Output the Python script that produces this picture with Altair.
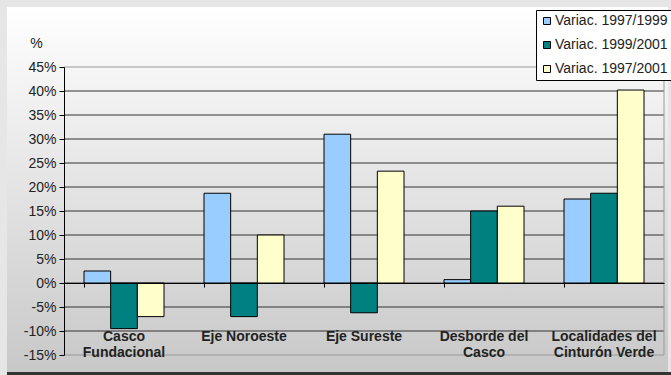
import altair as alt
import pandas as pd

categories = ["Casco|Fundacional", "Eje Noroeste", "Eje Sureste", "Desborde del|Casco", "Localidades del|Cinturón Verde"]
series = ["Variac. 1997/1999", "Variac. 1999/2001", "Variac. 1997/2001"]
v_97_99 = [2.5, 18.7, 31.0, 0.7, 17.5]
v_99_01 = [-9.5, -7.0, -6.2, 15.0, 18.7]
v_97_01 = [-7.0, 10.0, 23.3, 16.0, 40.2]
colors = ["#99CCFF", "#008080", "#FFFFCC"]
y_ticks = [-15, -10, -5, 0, 5, 10, 15, 20, 25, 30, 35, 40, 45]

rows = []
for s, vals in zip(series, [v_97_99, v_99_01, v_97_01]):
    for c, v in zip(categories, vals):
        rows.append({"cat": c, "serie": s, "val": v})
df = pd.DataFrame(rows)
grid_df = pd.DataFrame({"v": y_ticks})

FONT = "Liberation Sans"
W, H = 600, 288

yscale = alt.Scale(domain=[-15, 45], nice=False, zero=False)
yaxis = alt.Axis(values=y_ticks, labelExpr="datum.value + '%'",
                 title="%", titleAngle=0, titleX=-28, titleY=-20,
                 titleAlign="center", titleBaseline="alphabetic",
                 titleFont=FONT, titleFontSize=14, titleFontWeight="normal",
                 titleColor="#222222",
                 labelFont=FONT, labelFontSize=14, labelColor="#222222",
                 labelPadding=3, tickSize=5, tickColor="black",
                 domainColor="black", grid=False, zindex=1)

bg = alt.Chart(alt.Data(values=[{"a": 1}])).mark_rect(
    fill=alt.Gradient(
        gradient="linear",
        stops=[alt.GradientStop(color="#ffffff", offset=0),
               alt.GradientStop(color="#c8c8c8", offset=1)],
        x1=0, x2=0, y1=0, y2=1,
    )
).encode(x=alt.value(-57), x2=alt.value(604), y=alt.value(-60), y2=alt.value(305))

bottom_band = alt.Chart(alt.Data(values=[{"a": 1}])).mark_rect(fill="#333333").encode(
    x=alt.value(-57), x2=alt.value(607), y=alt.value(305), y2=alt.value(308)
)

grid = alt.Chart(grid_df).mark_rule(strokeWidth=1).encode(
    y=alt.Y("v:Q", scale=yscale, axis=yaxis),
    x=alt.value(0), x2=alt.value(W),
    color=alt.condition("datum.v == 45 || datum.v == -15", alt.value("#999999"), alt.value("#333333")),
)

right_border = alt.Chart(alt.Data(values=[{"a": 1}])).mark_rule(color="#999999").encode(
    x=alt.value(W), y=alt.value(0), y2=alt.value(H)
)

bars = alt.Chart(df).mark_bar(stroke="black", strokeWidth=1).encode(
    x=alt.X("cat:N", sort=categories,
            scale=alt.Scale(paddingInner=1/3, paddingOuter=1/6),
            axis=alt.Axis(title=None, orient="bottom", offset=-72, bandPosition=0,
                          labelAngle=0, labelPadding=42,
                          labelExpr="split(datum.label, '|')",
                          labelFont=FONT, labelFontSize=14, labelFontWeight="bold",
                          labelColor="#222222", labelLineHeight=16, labelBaseline="top",
                          domainColor="black", tickColor="black", tickSize=4,
                          grid=False, zindex=1)),
    xOffset=alt.XOffset("serie:N", sort=series, scale=alt.Scale(paddingInner=0, paddingOuter=0)),
    y=alt.Y("val:Q", scale=yscale, axis=yaxis),
    color=alt.Color("serie:N", sort=series,
                    scale=alt.Scale(domain=series, range=colors),
                    legend=alt.Legend(title=None, orient="none", legendX=472, legendY=-57,
                                      fillColor="white", strokeColor="black",
                                      padding=4, rowPadding=10,
                                      symbolType="square", symbolSize=49,
                                      symbolStrokeColor="black", symbolStrokeWidth=1,
                                      symbolOffset=0, labelOffset=1,
                                      labelFont=FONT, labelFontSize=14, labelColor="#222222",
                                      labelLimit=0)),
)

chart = alt.layer(bg, bottom_band, grid, right_border, bars).properties(
    width=W, height=H,
    autosize=alt.AutoSizeParams(type="none"),
    padding={"left": 64, "top": 67, "right": 7, "bottom": 20},
    background="#e6e6e6",
).configure_view(stroke=None)

chart.save("out.html", embed_options={"renderer": "svg", "actions": False})
